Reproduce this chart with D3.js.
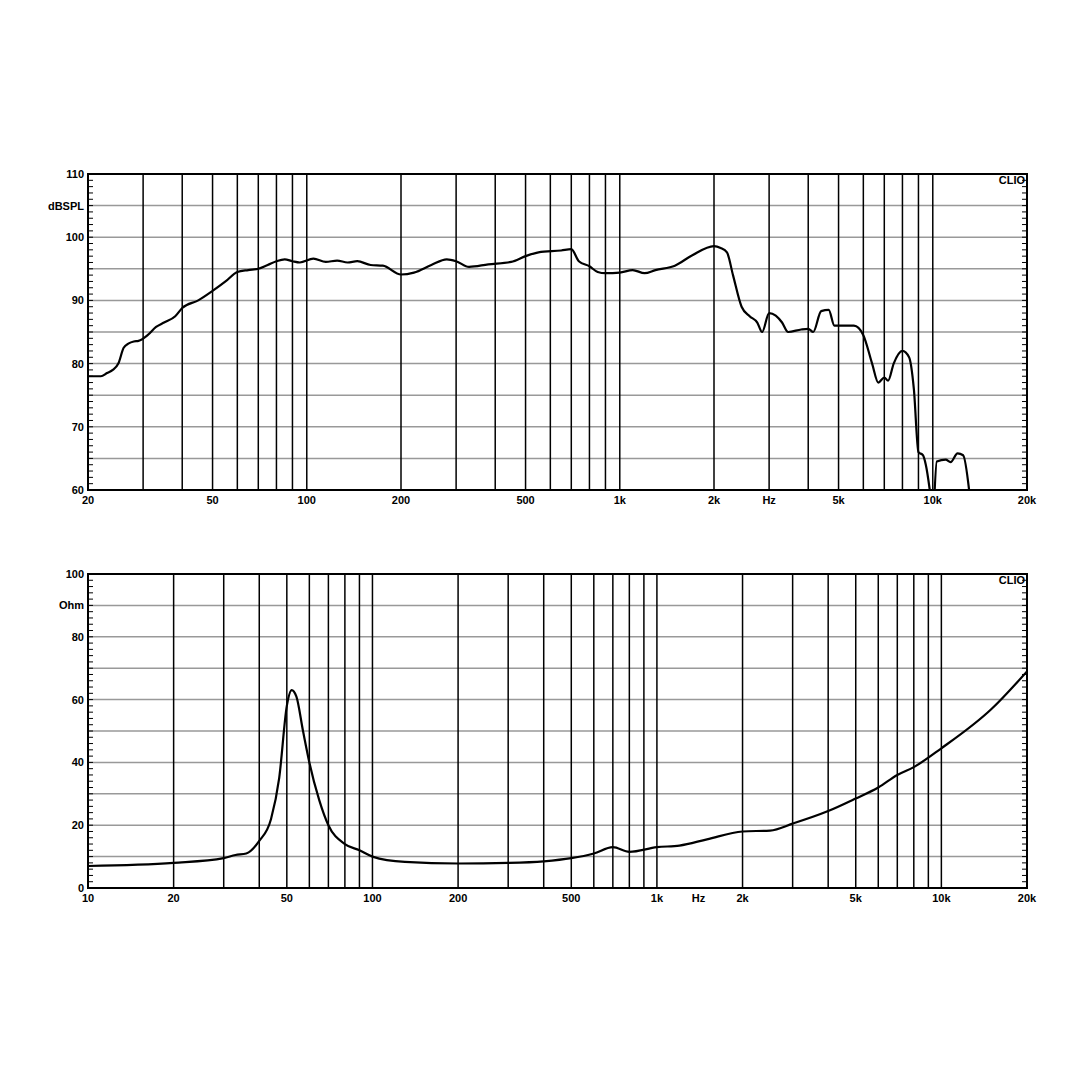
<!DOCTYPE html>
<html><head><meta charset="utf-8">
<script src="https://cdn.jsdelivr.net/npm/d3@7"></script>
<style>body{margin:0;background:#fff}text{font-family:"Liberation Sans",Arial,sans-serif;font-weight:bold;font-size:11px}</style>
</head><body><svg id="c" width="1080" height="1080"></svg>
<script>
// SPL response
const splFreq = [20,22,23,24,25,26,27,28,29,31,33,35,38,40,45,50,55,60,65,70,75,80,85,90,95,105,115,125,135,145,160,175,200,220,250,280,300,330,380,450,500,550,650,700,740,800,850,900,1000,1100,1200,1300,1500,1700,2000,2100,2200,2300,2450,2600,2750,2850,3000,3150,3300,3450,3800,4000,4150,4400,4650,4850,5200,5600,6000,6400,6700,7000,7200,7500,8000,8400,8700,9000,9300,9500,9900, null, 10100,10300,11000,11400,12000,12500,13200];
const splDb = [78,78,78.5,79,80,82.5,83.2,83.5,83.6,84.5,85.8,86.5,87.5,88.8,90,91.5,93,94.5,94.8,95,95.6,96.2,96.5,96.2,96,96.6,96.1,96.3,96,96.2,95.6,95.5,94.1,94.4,95.6,96.5,96.2,95.3,95.7,96.1,97,97.6,97.9,98.1,96.2,95.4,94.5,94.3,94.4,94.8,94.3,94.8,95.5,97.1,98.6,98.3,97.6,94,89,87.5,86.5,85,88,87.6,86.5,85,85.4,85.5,85,88.3,88.5,86,86,86,84.5,80,77,77.8,77.3,80,82,81,76,66,65.5,64,58, null, 58,64.5,64.8,64.4,65.8,65.5,58];
// impedance
const impFreq = [10,20,30,33,36,40,44,47,50,52,54,57,60,65,70,80,90,100,130,200,300,400,500,600,700,800,1000,1200,1500,2000,2500,3000,4000,5000,6000,7000,8000,10000,15000,20000];
const impOhm = [7,8,9.5,10.5,11,15,22,35,58,63,61,50,40,28,20,14,12,10,8.3,7.8,8,8.5,9.5,11,13,11.5,13,13.5,15.5,18,18.3,20.5,24.5,28.5,32,36,38.5,44.5,57,69];
const splTicks = [60,70,80,90,100,110];
const impTicks = [0,20,40,60,80,100];
const splXLabels = [[20,"20"],[50,"50"],[100,"100"],[200,"200"],[500,"500"],[1000,"1k"],[2000,"2k"],[3000,"Hz"],[5000,"5k"],[10000,"10k"],[20000,"20k"]];
const impXLabels = [[10,"10"],[20,"20"],[50,"50"],[100,"100"],[200,"200"],[500,"500"],[1000,"1k"],[1400,"Hz"],[2000,"2k"],[5000,"5k"],[10000,"10k"],[20000,"20k"]];

const svg = d3.select("#c");
const L = 88, R = 1027;

function gridFreqs(f0, f1) {
  const out = [];
  for (let d = 1; d <= 10000; d *= 10)
    for (let m = 1; m < 10; m++) { const f = m * d; if (f > f0 && f < f1) out.push(f); }
  return out;
}

function panel(id, top, bottom, f0, ymin, ymax, hStep, yTicks, unit, xLabels, fx, fy) {
  const x = d3.scaleLog().domain([f0, 20000]).range([L, R]);
  const y = d3.scaleLinear().domain([ymin, ymax]).range([bottom, top]);
  const g = svg.append("g");
  g.append("clipPath").attr("id", id).append("rect").attr("x", L).attr("y", top).attr("width", R - L).attr("height", bottom - top);
  d3.range(ymin + hStep, ymax, hStep).forEach(v =>
    g.append("line").attr("x1", L).attr("x2", R).attr("y1", y(v)).attr("y2", y(v)).attr("stroke", "#999").attr("stroke-width", 1.5));
  gridFreqs(f0, 20000).forEach(f =>
    g.append("line").attr("x1", x(f)).attr("x2", x(f)).attr("y1", top).attr("y2", bottom).attr("stroke", "#000").attr("stroke-width", 1.5));
  // minor ticks on sides
  const minor = (ymax - ymin) / 50;
  d3.range(ymin, ymax, minor).forEach(v => {
    g.append("line").attr("x1", L).attr("x2", L + 5).attr("y1", y(v)).attr("y2", y(v)).attr("stroke", "#000");
    g.append("line").attr("x1", R - 5).attr("x2", R).attr("y1", y(v)).attr("y2", y(v)).attr("stroke", "#000");
  });
  g.append("rect").attr("x", L).attr("y", top).attr("width", R - L).attr("height", bottom - top).attr("fill", "none").attr("stroke", "#000").attr("stroke-width", 2);
  yTicks.forEach(v => g.append("text").attr("x", L - 4).attr("y", y(v) + 4).attr("text-anchor", "end").text(v));
  g.append("text").attr("x", L - 4).attr("y", y(ymax - hStep) + 4).attr("text-anchor", "end").text(unit);
  xLabels.forEach(([f, t]) => g.append("text").attr("x", x(f)).attr("y", bottom + 14).attr("text-anchor", "middle").text(t));
  g.append("text").attr("x", R - 2).attr("y", top + 10).attr("text-anchor", "end").attr("font-size", "10px").text("CLIO");
  const line = d3.line().defined((d, i) => fx[i] !== null).x((d, i) => x(fx[i])).y((d, i) => y(fy[i])).curve(d3.curveMonotoneX);
  g.append("path").attr("d", line(fx)).attr("clip-path", `url(#${id})`).attr("fill", "none").attr("stroke", "#000").attr("stroke-width", 2.2);
}

panel("c1", 174, 490, 20, 60, 110, 5, splTicks, "dBSPL", splXLabels, splFreq, splDb);
panel("c2", 574, 888, 10, 0, 100, 10, impTicks, "Ohm", impXLabels, impFreq, impOhm);
</script></body></html>
